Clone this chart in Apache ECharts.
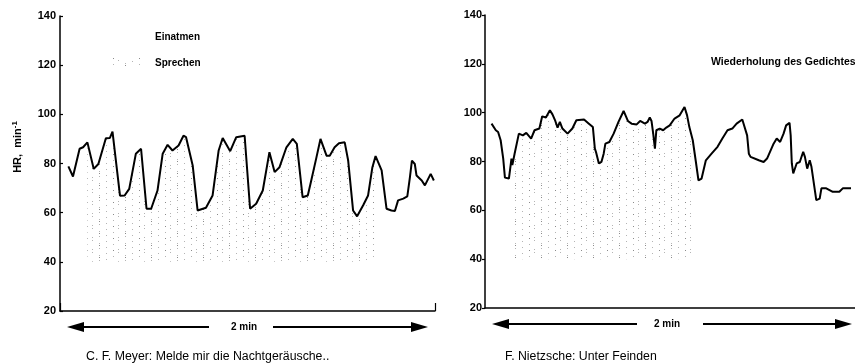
<!DOCTYPE html>
<html>
<head>
<meta charset="utf-8">
<script src="https://cdn.jsdelivr.net/npm/echarts@6/dist/echarts.min.js"></script>
<style>
  html, body { margin: 0; padding: 0; background: #fff; }
  #chart { width: 855px; height: 364px; }
</style>
</head>
<body>
<div id="chart"></div>
<script>
// Heart rate (min^-1) over time (s) while reciting two poems
const yTicks = [20, 40, 60, 80, 100, 120, 140];

const meyerT = [2.9, 4.5, 6.8, 8.0, 9.5, 11.7, 13.3, 15.9, 17.3, 18.2, 19.1, 20.8, 22.4, 24.0, 26.3, 28.1,
  30.0, 31.6, 33.8, 35.6, 37.3, 39.0, 41.1, 42.8, 43.7, 46.0, 47.7, 50.6, 52.9, 55.0, 56.4, 59.0,
  61.1, 64.0, 65.9, 68.0, 70.3, 72.6, 74.4, 76.1, 78.5, 80.7, 82.1, 84.1, 85.9, 87.1, 88.9, 90.3,
  92.4, 93.5, 95.2, 96.7, 98.7, 99.9, 101.6, 103.0, 105.1, 106.8, 108.3, 109.4, 111.5, 113.2, 114.9,
  116.1, 117.2, 119.0, 120.4, 121.3, 122.0, 123.0, 123.6, 125.4, 126.5, 128.5, 129.6];
const meyerHR = [78.8, 74.7, 86.0, 86.6, 88.6, 77.8, 79.8, 90.3, 90.4, 93.0, 83.9, 66.9, 67.0, 69.7, 84.0, 86.0,
  61.6, 61.6, 69.0, 84.0, 87.6, 85.3, 87.3, 91.3, 90.7, 79.2, 60.9, 62.0, 67.0, 85.3, 90.4, 85.0,
  90.7, 91.3, 61.6, 63.6, 69.0, 84.6, 76.5, 78.5, 86.6, 90.0, 88.0, 66.3, 67.0, 73.1, 82.5, 90.0,
  83.2, 83.2, 86.6, 88.2, 88.6, 81.2, 60.9, 58.5, 63.0, 67.0, 78.5, 83.0, 77.2, 61.6, 60.9,
  60.7, 65.0, 65.7, 66.6, 74.4, 81.2, 79.8, 75.1, 73.1, 71.1, 75.8, 73.1];

const nietzscheT = [2.3, 3.8, 4.6, 5.5, 6.4, 7.0, 8.4, 9.3, 9.6, 10.4, 11.9, 13.3, 14.5, 16.2, 17.4, 19.1,
  20.1, 21.4, 22.8, 23.7, 24.7, 25.5, 26.3, 27.2, 29.0, 30.7, 32.1, 34.8, 36.5, 37.1, 37.9, 38.6,
  39.0, 40.0, 40.9, 41.7, 42.3, 43.7, 45.2, 46.9, 48.7, 50.2, 51.5, 53.3, 54.5, 56.2, 57.1, 57.9,
  58.5, 59.1, 59.7, 60.2, 61.4, 62.6, 63.7, 64.9, 66.6, 68.4, 70.1, 71.0, 71.8, 73.0, 74.1, 75.0,
  76.1, 77.6, 79.6, 81.7, 83.4, 85.2, 86.9, 88.4, 90.4, 91.0, 92.1, 92.7, 93.3, 96.2, 97.9, 99.1,
  101.4, 102.5, 103.7, 104.9, 105.8, 107.0, 107.4, 107.8, 108.3, 109.5, 110.6, 111.8, 112.4, 113.2,
  114.1, 114.7, 116.4, 117.6, 118.2, 119.9, 122.2, 124.5, 125.7, 128.6];
const nietzscheHR = [95.5, 92.8, 92.1, 88.7, 81.2, 73.4, 73.0, 81.2, 78.5, 83.2, 91.4, 90.7, 91.7, 89.4, 92.8, 93.5,
  98.5, 98.0, 101.0, 99.3, 96.6, 93.9, 96.2, 93.5, 91.4, 93.5, 96.9, 97.2, 95.5, 96.2, 94.1, 85.3,
  83.9, 79.2, 79.8, 83.2, 87.3, 88.0, 91.4, 96.2, 100.7, 96.6, 95.5, 95.2, 96.6, 95.5, 96.2, 98.0,
  96.6, 91.4, 85.3, 92.8, 93.5, 92.8, 93.9, 94.8, 97.6, 98.9, 102.3, 98.9, 94.1, 88.7, 79.8, 72.3,
  73.0, 80.5, 83.2, 86.0, 89.4, 92.8, 93.5, 95.5, 97.2, 96.9, 90.7, 83.2, 81.9, 80.5, 79.8, 81.2,
  87.3, 89.4, 88.0, 91.4, 94.8, 95.8, 90.7, 79.2, 75.1, 79.2, 79.8, 84.0, 81.9, 77.1,
  80.5, 77.8, 64.2, 64.8, 69.0, 69.0, 67.6, 67.6, 69.0, 69.0];

// Time windows (s) during which the text is spoken
const meyerSpeech = [9.4, 110.2];
const nietzscheSpeech = [8.7, 74.7];

const SPEECH_BASE = 40;   // dotted band starts at 40 min^-1
const T_MAX = 130;

function pairs(ts, vs) { return ts.map((t, i) => [t, vs[i]]); }
function inRange(ts, vs, range) {
  return pairs(ts, vs).filter(p => p[0] >= range[0] && p[0] <= range[1]);
}

// sparse grey dots in vertical columns for the "Sprechen" band
function dotPattern() {
  const c = document.createElement('canvas');
  c.width = 26; c.height = 12;
  const g = c.getContext('2d');
  g.fillStyle = '#b4b4b4';
  [[2, 1], [2, 7], [9, 4], [14, 0], [14, 9], [21, 3], [21, 8]].forEach(([x, y]) => g.fillRect(x, y, 1, 1));
  g.fillStyle = '#8a8a8a';
  [[9, 10], [21, 5]].forEach(([x, y]) => g.fillRect(x, y, 1, 1));
  return c;
}
const pattern = { image: dotPattern(), repeat: 'repeat' };

const FONT = 'Liberation Sans, Arial, sans-serif';
const axisFont = { fontFamily: FONT, fontWeight: 'bold', fontSize: 11, color: '#000' };

function yAxisCfg(idx, tickInside) {
  return {
    type: 'value', gridIndex: idx, min: yTicks[0], max: yTicks[yTicks.length - 1], interval: 20,
    axisLine: { show: true, lineStyle: { color: '#000', width: 1.5 } },
    axisTick: { show: true, inside: tickInside, length: 3, lineStyle: { color: '#000', width: 1.2 } },
    axisLabel: Object.assign({ margin: tickInside ? 4 : 3 }, axisFont),
    splitLine: { show: false }
  };
}

function xAxisCfg(idx, endTick) {
  return {
    type: 'value', gridIndex: idx, min: 0, max: T_MAX, interval: T_MAX,
    axisLine: { show: true, lineStyle: { color: '#000', width: 1.5 } },
    axisTick: { show: endTick, inside: true, length: 8, lineStyle: { color: '#000', width: 1.2 } },
    axisLabel: { show: false },
    splitLine: { show: false }
  };
}

function hrLine(idx, data) {
  return {
    type: 'line', xAxisIndex: idx, yAxisIndex: idx, data: data, symbol: 'none', z: 3,
    lineStyle: { color: '#000', width: 2 }, silent: true
  };
}
function speechBand(idx, data) {
  return {
    type: 'line', xAxisIndex: idx, yAxisIndex: idx, data: data, symbol: 'none', z: 1,
    lineStyle: { width: 0, opacity: 0 },
    areaStyle: { origin: SPEECH_BASE, color: pattern, opacity: 1 }, silent: true
  };
}

function arrow(xTip1, xEnd1, xStart2, xTip2, y, label, labelX) {
  const head = 17, half = 5;
  return [
    { type: 'polygon', shape: { points: [[xTip1, y], [xTip1 + head, y - half], [xTip1 + head, y + half]] }, style: { fill: '#000' } },
    { type: 'line', shape: { x1: xTip1 + head, y1: y, x2: xEnd1, y2: y }, style: { stroke: '#000', lineWidth: 2 } },
    { type: 'line', shape: { x1: xStart2, y1: y, x2: xTip2 - head, y2: y }, style: { stroke: '#000', lineWidth: 2 } },
    { type: 'polygon', shape: { points: [[xTip2, y], [xTip2 - head, y - half], [xTip2 - head, y + half]] }, style: { fill: '#000' } },
    { type: 'text', x: labelX, y: y, style: { text: label, align: 'center', verticalAlign: 'middle', fill: '#000',
      font: 'bold 10px ' + FONT } }
  ];
}

const chart = echarts.init(document.getElementById('chart'), null, { renderer: 'canvas' });
chart.setOption({
  animation: false,
  backgroundColor: '#fff',
  grid: [
    { left: 60, top: 16, width: 375, height: 295 },
    { left: 485, top: 15, width: 374, height: 293 }
  ],
  xAxis: [xAxisCfg(0, true), xAxisCfg(1, false)],
  yAxis: [yAxisCfg(0, true), yAxisCfg(1, false)],
  series: [
    speechBand(0, inRange(meyerT, meyerHR, meyerSpeech)),
    hrLine(0, pairs(meyerT, meyerHR)),
    speechBand(1, inRange(nietzscheT, nietzscheHR, nietzscheSpeech)),
    hrLine(1, pairs(nietzscheT, nietzscheHR))
  ],
  graphic: [
    // y axis title
    { type: 'text', x: 18, y: 147, rotation: Math.PI / 2,
      style: { text: '{a|HR,  min}{s|-1}', align: 'center', verticalAlign: 'middle',
        rich: {
          a: { fontFamily: FONT, fontSize: 11, fontWeight: 'bold', fill: '#000' },
          s: { fontFamily: FONT, fontSize: 8, fontWeight: 'bold', fill: '#000', verticalAlign: 'top', padding: [0, 0, 6, 0] }
        } } },
    // legend
    { type: 'text', x: 155, y: 37, style: { text: 'Einatmen', verticalAlign: 'middle', fill: '#000', font: 'bold 10px ' + FONT } },
    { type: 'rect', shape: { x: 107, y: 58, width: 36, height: 9 }, style: { fill: pattern } },
    { type: 'text', x: 155, y: 63, style: { text: 'Sprechen', verticalAlign: 'middle', fill: '#000', font: 'bold 10px ' + FONT } },
    { type: 'text', x: 711, y: 62, style: { text: 'Wiederholung des Gedichtes', verticalAlign: 'middle', fill: '#000', font: 'bold 10.5px ' + FONT } },
    // time scale arrows
    ...arrow(67, 209, 273, 428, 327, '2 min', 244),
    ...arrow(492, 637, 703, 852, 324, '2 min', 667),
    // captions
    { type: 'text', x: 86, y: 357, style: { text: 'C. F. Meyer: Melde mir die Nachtgeräusche..', verticalAlign: 'middle', fill: '#000', font: '12.3px ' + FONT } },
    { type: 'text', x: 505, y: 357, style: { text: 'F. Nietzsche: Unter Feinden', verticalAlign: 'middle', fill: '#000', font: '12.3px ' + FONT } }
  ]
});
</script>
</body>
</html>
